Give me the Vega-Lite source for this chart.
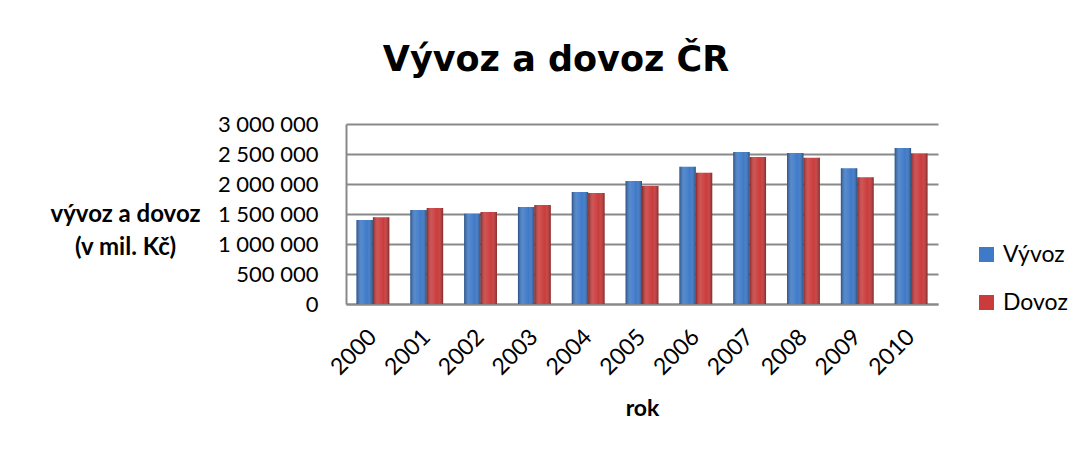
{
  "$schema": "https://vega.github.io/schema/vega-lite/v6.json",
  "width": 592,
  "height": 180,
  "autosize": "none",
  "padding": {"left": 346, "top": 124, "right": 147, "bottom": 146},
  "background": "white",
  "config": {
    "locale": {"number": {"decimal": ",", "thousands": " ", "grouping": [3], "currency": ["", " Kč"]}},
    "view": {"stroke": null},
    "font": "Lato"
  },
  "title": {
    "text": "Vývoz a dovoz ČR",
    "font": "DejaVu Sans",
    "fontSize": 35,
    "fontWeight": "bold",
    "color": "black",
    "anchor": "middle",
    "dx": -86,
    "offset": 35
  },
  "data": {
    "values": [
      {"rok": "2000", "serie": "Vývoz", "hodnota": 1400000},
      {"rok": "2000", "serie": "Dovoz", "hodnota": 1445000},
      {"rok": "2001", "serie": "Vývoz", "hodnota": 1567000},
      {"rok": "2001", "serie": "Dovoz", "hodnota": 1600000},
      {"rok": "2002", "serie": "Vývoz", "hodnota": 1505000},
      {"rok": "2002", "serie": "Dovoz", "hodnota": 1533000},
      {"rok": "2003", "serie": "Vývoz", "hodnota": 1617000},
      {"rok": "2003", "serie": "Dovoz", "hodnota": 1650000},
      {"rok": "2004", "serie": "Vývoz", "hodnota": 1868000},
      {"rok": "2004", "serie": "Dovoz", "hodnota": 1850000},
      {"rok": "2005", "serie": "Vývoz", "hodnota": 2052000},
      {"rok": "2005", "serie": "Dovoz", "hodnota": 1968000},
      {"rok": "2006", "serie": "Vývoz", "hodnota": 2286000},
      {"rok": "2006", "serie": "Dovoz", "hodnota": 2186000},
      {"rok": "2007", "serie": "Vývoz", "hodnota": 2532000},
      {"rok": "2007", "serie": "Dovoz", "hodnota": 2448000},
      {"rok": "2008", "serie": "Vývoz", "hodnota": 2515000},
      {"rok": "2008", "serie": "Dovoz", "hodnota": 2437000},
      {"rok": "2009", "serie": "Vývoz", "hodnota": 2264000},
      {"rok": "2009", "serie": "Dovoz", "hodnota": 2114000},
      {"rok": "2010", "serie": "Vývoz", "hodnota": 2599000},
      {"rok": "2010", "serie": "Dovoz", "hodnota": 2508000}
    ]
  },
  "encoding": {
    "x": {
      "field": "rok",
      "type": "nominal",
      "scale": {"paddingInner": 0.39, "paddingOuter": 0.195},
      "axis": {
        "title": "rok",
        "titleFont": "Lato",
        "titleFontSize": 23,
        "titleFontWeight": "bold",
        "titleColor": "black",
        "titleY": 104,
        "titleBaseline": "middle",
        "labelAngle": -45,
        "labelAlign": "right",
        "labelBaseline": "middle",
        "labelFont": "Lato",
        "labelFontSize": 23,
        "labelColor": "black",
        "labelPadding": 29,
        "ticks": false,
        "domainColor": "#898989",
        "domainWidth": 2
      }
    },
    "xOffset": {"field": "serie", "sort": ["Vývoz", "Dovoz"], "scale": {"paddingInner": 0, "paddingOuter": 0}},
    "y": {
      "field": "hodnota",
      "type": "quantitative",
      "scale": {"domain": [0, 3000000]},
      "axis": {
        "values": [0, 500000, 1000000, 1500000, 2000000, 2500000, 3000000],
        "format": ",d",
        "title": ["vývoz a dovoz", "(v mil. Kč)"],
        "titleAngle": 0,
        "titleAlign": "center",
        "titleBaseline": "middle",
        "titleX": -221,
        "titleY": 90,
        "titleLineHeight": 33,
        "titleFont": "Lato",
        "titleFontSize": 24,
        "titleFontWeight": "bold",
        "titleColor": "black",
        "labelFont": "Lato",
        "labelFontSize": 22,
        "labelColor": "black",
        "labelPadding": 28,
        "ticks": false,
        "gridColor": "#898989",
        "gridWidth": 2,
        "domainColor": "#898989",
        "domainWidth": 2
      }
    }
  },
  "layer": [
    {
      "mark": {"type": "bar"},
      "encoding": {
        "color": {
          "field": "serie",
          "type": "nominal",
          "scale": {"domain": ["Vývoz", "Dovoz"], "range": ["#3F7AC8", "#CA3C3C"]},
          "legend": {
            "title": null,
            "orient": "none",
            "legendX": 629,
            "legendY": 119,
            "symbolType": "square",
            "symbolSize": 225,
            "symbolStrokeWidth": 0,
            "labelFont": "Lato",
            "labelFontSize": 23,
            "labelColor": "black",
            "labelOffset": 5,
            "rowPadding": 24
          }
        }
      }
    },
    {
      "mark": {
        "type": "bar",
        "fill": {
          "gradient": "linear",
          "x1": 0, "y1": 0, "x2": 1, "y2": 0,
          "stops": [
            {"offset": 0, "color": "rgba(0,0,0,0.35)"},
            {"offset": 0.3, "color": "rgba(255,255,255,0.12)"},
            {"offset": 0.65, "color": "rgba(255,255,255,0)"},
            {"offset": 1, "color": "rgba(0,0,0,0.35)"}
          ]
        }
      }
    }
  ]
}
